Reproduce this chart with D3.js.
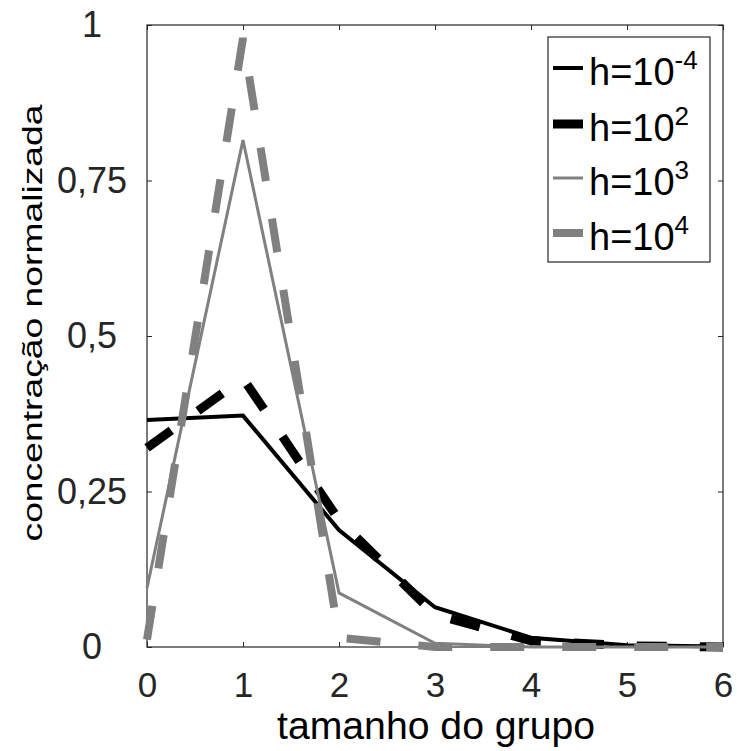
<!DOCTYPE html>
<html>
<head>
<meta charset="utf-8">
<script src="https://cdn.jsdelivr.net/npm/d3@7"></script>
<style>
  body { margin: 0; background: #fff; }
  text { font-family: "Liberation Sans", Arial, sans-serif; }
</style>
</head>
<body>
<div class="canvas"></div>
<script>
// data
const sizes = [0, 1, 2, 3, 4, 5, 6];
const hMinus4 = [0.365, 0.372, 0.188, 0.064, 0.015, 0.003, 0.001];
const h2 = [0.32, 0.432, 0.204, 0.052, 0.01, 0.002, 0.0];
const h3 = [0.095, 0.815, 0.087, 0.006, 0.0, 0.0, 0.0];
const h4 = [0.012, 0.979, 0.015, 0.0, 0.0, 0.0, 0.0];
const xTicks = [0, 1, 2, 3, 4, 5, 6];
const yTicks = [0, 0.25, 0.5, 0.75, 1];
const yTickLabels = ['0', '0,25', '0,5', '0,75', '1'];
const legendExp = ['-4', '2', '3', '4'];

const series = [
  { vals: hMinus4, color: '#000', width: 4, dash: null },
  { vals: h2, color: '#000', width: 9, dash: '30,33' },
  { vals: h3, color: '#808080', width: 3, dash: null },
  { vals: h4, color: '#808080', width: 8, dash: '34,38' }
];

const svg = d3.select('.canvas')
  .append('svg')
    .attr('width', 737)
    .attr('height', 751);

const x = d3.scaleLinear().domain([0, 6]).range([147, 723]);
const y = d3.scaleLinear().domain([0, 1]).range([647, 25]);

const axisCol = '#262626';

// frame
svg.append('rect')
  .attr('x', x(0)).attr('y', y(1))
  .attr('width', x(6) - x(0)).attr('height', y(0) - y(1))
  .attr('fill', 'none').attr('stroke', axisCol).attr('stroke-width', 1.2);

// axes (ticks point inwards)
const bottom = svg.append('g')
  .attr('transform', `translate(0,${y(0)})`)
  .call(d3.axisBottom(x).tickValues(xTicks).tickFormat(d3.format('d'))
    .tickSizeInner(-5).tickSizeOuter(0).tickPadding(25));

const left = svg.append('g')
  .attr('transform', `translate(${x(0)},0)`)
  .call(d3.axisLeft(y).tickValues(yTicks).tickFormat((d, i) => yTickLabels[i])
    .tickSizeInner(-5).tickSizeOuter(0));

svg.append('g')
  .attr('transform', `translate(0,${y(1)})`)
  .call(d3.axisTop(x).tickValues(xTicks).tickFormat('').tickSizeInner(-5).tickSizeOuter(0));

svg.append('g')
  .attr('transform', `translate(${x(6)},0)`)
  .call(d3.axisRight(y).tickValues(yTicks).tickFormat('').tickSizeInner(-5).tickSizeOuter(0));

svg.selectAll('.domain').remove();
svg.selectAll('.tick line').attr('stroke', axisCol);

bottom.selectAll('text')
  .attr('font-size', 35).attr('fill', axisCol)
  .style('font-family', '"Liberation Sans", Arial, sans-serif');

left.selectAll('text')
  .attr('font-size', 36).attr('fill', axisCol)
  .attr('text-anchor', 'middle').attr('x', -55)
  .style('font-family', '"Liberation Sans", Arial, sans-serif');

// axis titles
svg.append('text')
  .attr('x', 436).attr('y', 739)
  .attr('text-anchor', 'middle')
  .attr('font-size', 38)
  .attr('textLength', 318)
  .attr('lengthAdjust', 'spacingAndGlyphs')
  .text('tamanho do grupo');

svg.append('text')
  .attr('transform', 'translate(42,323) rotate(-90)')
  .attr('text-anchor', 'middle')
  .attr('font-size', 27)
  .attr('textLength', 437)
  .attr('lengthAdjust', 'spacingAndGlyphs')
  .text('concentração normalizada');

// lines
const line = d3.line()
  .x((d, i) => x(sizes[i]))
  .y(d => y(d));

svg.selectAll('.series')
  .data(series)
  .enter()
  .append('path')
    .attr('class', 'series')
    .attr('d', d => line(d.vals))
    .attr('fill', 'none')
    .attr('stroke', d => d.color)
    .attr('stroke-width', d => d.width)
    .attr('stroke-dasharray', d => d.dash)
    .attr('stroke-linejoin', 'miter');

// legend
const legend = svg.append('g');
legend.append('rect')
  .attr('x', 548).attr('y', 37).attr('width', 162).attr('height', 225)
  .attr('fill', '#fff').attr('stroke', axisCol).attr('stroke-width', 1.2);

const rowY = [68, 124, 178, 233];
const rows = legend.selectAll('.row')
  .data(series)
  .enter()
  .append('g')
    .attr('transform', (d, i) => `translate(0,${rowY[i]})`);

rows.append('line')
  .attr('x1', 553).attr('x2', 583)
  .attr('stroke', d => d.color)
  .attr('stroke-width', d => d.width);

const lt = rows.append('text')
  .attr('x', 589).attr('y', 17)
  .attr('font-size', 38)
  .attr('fill', '#000');
lt.append('tspan').text('h=10');
lt.append('tspan')
  .attr('font-size', 26)
  .attr('dy', -16)
  .text((d, i) => legendExp[i]);
</script>
</body>
</html>
